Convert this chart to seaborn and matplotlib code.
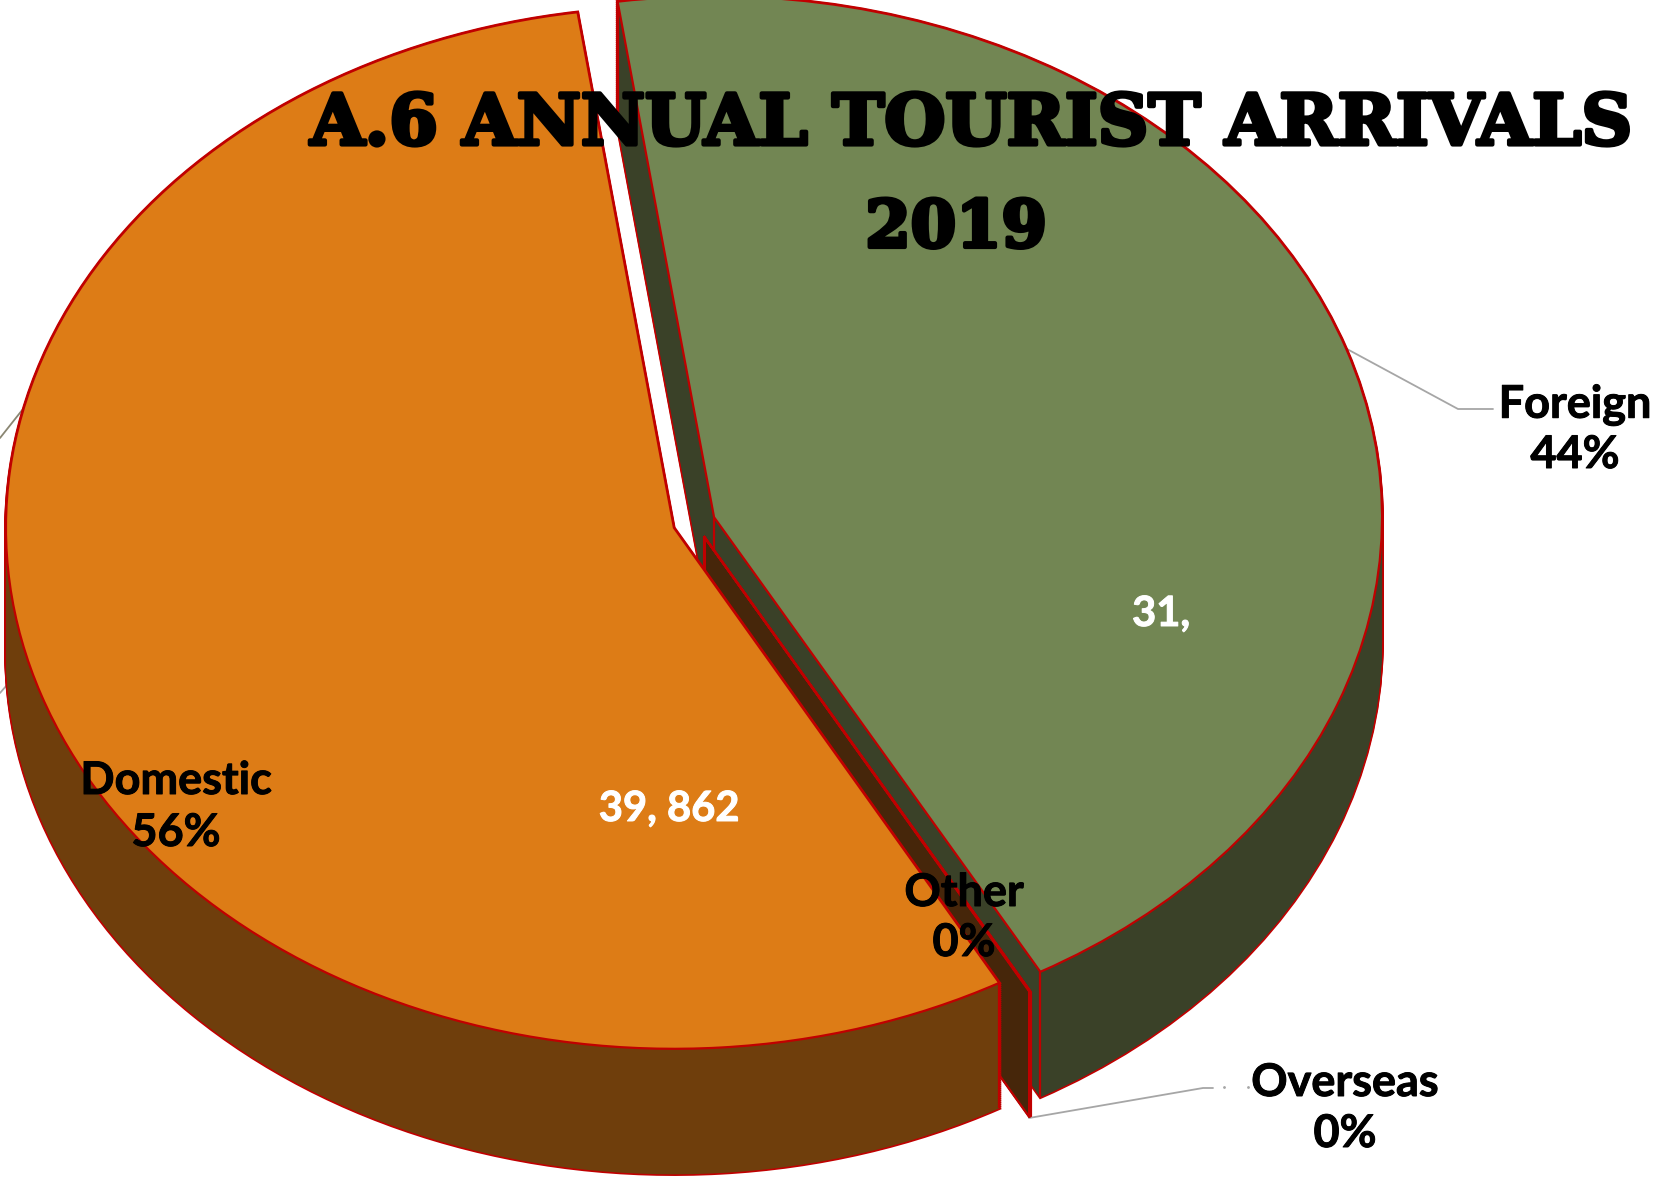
import numpy as np
import seaborn as sns
import matplotlib.pyplot as plt
import matplotlib.patheffects as pe

# chart data
categories = ['Domestic', 'Other', 'Overseas', 'Foreign']
values = [39862, 12, 8, 31570]
percent_labels = ['56%', '0%', '0%', '44%']
value_labels = ['39, 862', '31,']
explode = [0.0317, 0.03, 0.03, 0.0317]
top_colors = ['#DD7C16', '#DD7C16', '#DD7C16', '#728653']
side_colors = ['#6F3E0C', '#46260A', '#46260A', '#3A4128']
draw_order = [3, 2, 1, 0]
title_lines = ['A.6 ANNUAL TOURIST ARRIVALS', '2019']

W, H = 1665, 1182
CX, CY, RX, RY = 694, 522.5, 668, 521
DEPTH = 125.5 / RY
RED = '#C00000'

sns.set_theme(style='white')
plt.rcParams['font.family'] = ['Lato', 'DejaVu Sans']

fig = plt.figure(figsize=(W / 100, H / 100), dpi=100)
ax = fig.add_axes([0, 0, 1, 1])


def fx(x):
    return x / W


def fy(y):
    return 1 - y / H


def one_wedge(i, dy, **props):
    # pie does the angles and the explode, only slice i is kept
    wedges, _ = ax.pie(values, explode=explode, startangle=98.3, radius=1,
                       center=(0, dy), colors=[top_colors[i]] * 4, wedgeprops=props)
    for j, w in enumerate(wedges):
        if j != i:
            w.remove()
    return wedges[i]


# side walls, stacked copies of each slice
offsets = np.linspace(-DEPTH, 0, 64)
for i in draw_order:
    thin = values[i] < 100
    if not thin:
        for dy in offsets:
            one_wedge(i, dy, facecolor=RED, edgecolor=RED, linewidth=2.4)
    for dy in offsets:
        if thin:
            # the 0% slices are too narrow to fill, the edge makes the wall
            w = one_wedge(i, dy, facecolor=side_colors[i], edgecolor=side_colors[i], linewidth=1.2)
        else:
            w = one_wedge(i, dy, facecolor=side_colors[i], edgecolor='none', linewidth=0)
    # red verticals at the corners of the slice
    cx, cy = w.center
    xs = [cx, cx + np.cos(np.radians(w.theta1)), cx + np.cos(np.radians(w.theta2))]
    ys = [cy, cy + np.sin(np.radians(w.theta1)), cy + np.sin(np.radians(w.theta2))]
    for x, y in zip(xs, ys):
        ax.plot([x, x], [y, y - DEPTH], color=RED, lw=2.2 if thin else 1.6, zorder=1,
                solid_capstyle='butt')
    if thin:
        ax.plot(xs[:2], [ys[0] - DEPTH, ys[1] - DEPTH], color=RED, lw=1.6, zorder=1)

# top faces
for i in draw_order:
    one_wedge(i, 0, facecolor=top_colors[i], edgecolor=RED, linewidth=1.6)

ax.set_aspect('auto')
ax.set_xlim((0 - CX) / RX, (W - CX) / RX)
ax.set_ylim((CY - H) / RY, CY / RY)
ax.axis('off')

# leader lines
leaders = [
    ([1347, 1458, 1493], [349, 409, 409], '#A6A6A6'),
    ([1029, 1203, 1213], [1118, 1088, 1088], '#A6A6A6'),
    ([0, 23], [438, 409], '#8A8672'),
    ([0, 7], [693, 685], '#A6A6A6'),
]
for lx, ly, c in leaders:
    ax.plot([fx(v) for v in lx], [fy(v) for v in ly], color=c, lw=1.3,
            transform=fig.transFigure, zorder=0.5, clip_on=False)
ax.plot([fx(1224), fx(1248)], [fy(1087), fy(1087)], ls='none', marker='.', ms=2,
        color='#A6A6A6', transform=fig.transFigure, zorder=0.5)

# data labels, Lato with a thin stroke to get closer to the heavy original
heavy = [pe.withStroke(linewidth=0.7, foreground='black')]
heavy_white = [pe.withStroke(linewidth=0.7, foreground='white')]
label_pos = [(176, 781, 833), (964, 893, 943), (1345, 1083, 1134), (1575, 405, 455)]
for name, pct, (x, y1, y2) in zip(categories, percent_labels, label_pos):
    fig.text(fx(x), fy(y1), name, ha='center', va='center', fontsize=32.4, fontweight='bold',
             color='black', path_effects=heavy)
    fig.text(fx(x), fy(y2), pct, ha='center', va='center', fontsize=32.4, fontweight='bold',
             color='black', path_effects=heavy)

fig.text(fx(669), fy(809), value_labels[0], ha='center', va='center', fontsize=30, fontweight='bold',
         color='white', path_effects=heavy_white)
fig.text(fx(1161), fy(614), value_labels[1], ha='center', va='center', fontsize=30, fontweight='bold',
         color='white', path_effects=heavy_white)

# title, no Cooper Black here so a fattened serif
for line, x, y, size in zip(title_lines, [971, 956], [125, 229], [50.5, 47]):
    fig.text(fx(x), fy(y), line, ha='center', va='center', fontsize=size,
             family='DejaVu Serif', fontweight='bold', color='black',
             path_effects=[pe.withStroke(linewidth=3, foreground='black')])

fig.savefig('out.png', dpi=100)
